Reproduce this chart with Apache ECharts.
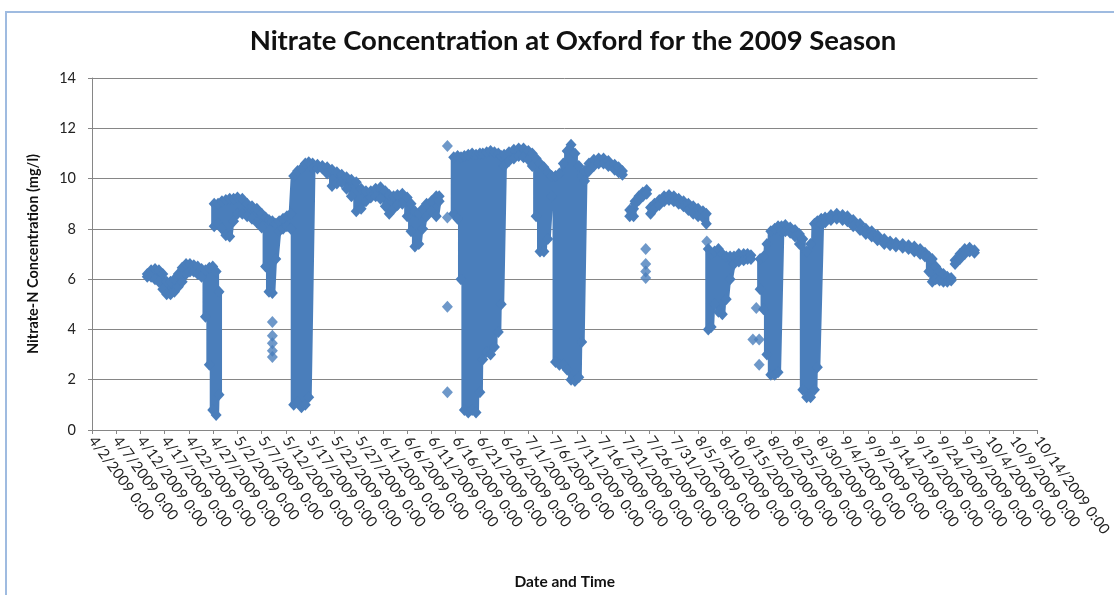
<!DOCTYPE html>
<html>
<head>
<meta charset="utf-8">
<script src="https://cdn.jsdelivr.net/npm/echarts@6/dist/echarts.min.js"></script>
<style>
  html, body { margin: 0; padding: 0; background: #fff; }
  #wrap { position: relative; width: 1114px; height: 595px; overflow: hidden; }
  #frame { position: absolute; left: 5px; top: 11px; width: 1200px; height: 700px;
           border: 2px solid #9fbbe0; box-sizing: border-box; }
  #chart { position: absolute; left: 0; top: 0; width: 1114px; height: 595px; }
</style>
</head>
<body>
<div id="wrap">
  <div id="frame"></div>
  <div id="chart"></div>
</div>
<script>
// x = days after 4/2/2009 0:00, tick every 5 days
const tickLabels = [
  '4/2/2009 0:00', '4/7/2009 0:00', '4/12/2009 0:00', '4/17/2009 0:00', '4/22/2009 0:00',
  '4/27/2009 0:00', '5/2/2009 0:00', '5/7/2009 0:00', '5/12/2009 0:00', '5/17/2009 0:00',
  '5/22/2009 0:00', '5/27/2009 0:00', '6/1/2009 0:00', '6/6/2009 0:00', '6/11/2009 0:00',
  '6/16/2009 0:00', '6/21/2009 0:00', '6/26/2009 0:00', '7/1/2009 0:00', '7/6/2009 0:00',
  '7/11/2009 0:00', '7/16/2009 0:00', '7/21/2009 0:00', '7/26/2009 0:00', '7/31/2009 0:00',
  '8/5/2009 0:00', '8/10/2009 0:00', '8/15/2009 0:00', '8/20/2009 0:00', '8/25/2009 0:00',
  '8/30/2009 0:00', '9/4/2009 0:00', '9/9/2009 0:00', '9/14/2009 0:00', '9/19/2009 0:00',
  '9/24/2009 0:00', '9/29/2009 0:00', '10/4/2009 0:00', '10/9/2009 0:00', '10/14/2009 0:00'
];

// each run: [day, high reading, low reading] (mg/l)
const aprilRun = [
  [11.4, 6.2, 6.1], [12.2, 6.35, 6.1], [13.0, 6.4, 6.0], [13.8, 6.35, 5.9], [14.6, 6.2, 5.6],
  [15.4, 5.9, 5.4], [16.2, 5.9, 5.4], [17.0, 6.0, 5.5], [17.8, 6.2, 5.7], [18.6, 6.45, 5.9],
  [19.4, 6.6, 6.2], [20.2, 6.6, 6.3], [21.0, 6.55, 6.3], [21.8, 6.5, 6.2], [22.6, 6.4, 6.1],
  [23.4, 6.35, 4.5], [24.2, 6.45, 2.6], [24.9, 6.5, 0.8], [25.6, 6.3, 0.6], [26.2, 5.5, 1.4]
];

const mayRun = [
  [25.2, 9.0, 8.1], [26.0, 9.0, 8.2], [26.8, 9.1, 8.0], [27.6, 9.15, 7.75], [28.4, 9.2, 7.7],
  [29.2, 9.2, 8.3], [30.0, 9.25, 8.6], [31.0, 9.2, 8.6], [32.0, 9.0, 8.5], [33.0, 8.9, 8.4],
  [34.0, 8.8, 8.25], [35.0, 8.6, 8.05], [35.8, 8.45, 6.5], [36.5, 8.35, 5.5], [37.2, 8.3, 5.45],
  [37.9, 8.2, 6.8], [38.6, 8.3, 7.9], [39.4, 8.4, 8.0], [40.2, 8.5, 8.1], [41.0, 8.6, 8.0],
  [41.6, 10.1, 1.0], [42.4, 10.3, 1.1], [43.2, 10.4, 0.9], [44.0, 10.6, 1.0], [44.7, 10.65, 1.3],
  [45.5, 10.6, 10.4], [46.5, 10.55, 10.4], [47.5, 10.5, 10.4], [48.5, 10.45, 10.2], [49.5, 10.35, 9.7],
  [50.5, 10.25, 9.8], [51.5, 10.15, 9.85], [52.5, 10.05, 9.6], [53.5, 9.95, 9.3], [54.5, 9.85, 8.7],
  [55.5, 9.6, 8.8], [56.5, 9.5, 9.1], [57.5, 9.5, 9.25], [58.5, 9.6, 9.3], [59.5, 9.65, 9.2],
  [60.5, 9.5, 8.9], [61.3, 9.35, 8.6], [62.2, 9.3, 8.8], [63.0, 9.35, 8.95], [64.0, 9.4, 9.0],
  [65.0, 9.25, 8.5], [65.8, 9.0, 7.9], [66.6, 8.7, 7.3], [67.4, 8.6, 7.4], [68.2, 8.8, 8.0],
  [69.0, 9.0, 8.5], [70.0, 9.1, 8.7], [71.0, 9.3, 8.5], [71.6, 9.3, 9.1]
];

const juneRun = [
  [74.6, 10.85, 8.6], [75.4, 10.9, 8.4], [76.1, 10.85, 6.0], [76.8, 10.9, 0.8], [77.6, 10.95, 0.7],
  [78.4, 11.0, 0.8], [79.2, 10.95, 0.7], [80.0, 11.0, 1.5], [80.6, 11.0, 2.8], [81.4, 11.05, 3.1],
  [82.2, 11.1, 3.0], [83.0, 11.05, 3.3], [83.8, 11.0, 3.9], [84.4, 10.9, 5.0], [85.0, 10.95, 10.5],
  [86.0, 11.05, 10.7], [87.0, 11.15, 10.8], [88.0, 11.2, 10.9], [89.0, 11.2, 10.85], [90.0, 11.1, 10.75],
  [90.8, 11.0, 10.5], [91.6, 10.8, 8.5], [92.4, 10.6, 7.1], [93.2, 10.45, 7.1], [94.0, 10.25, 7.6],
  [94.8, 10.1, 9.3], [95.6, 10.1, 2.7], [96.4, 10.2, 2.6], [97.2, 10.6, 2.6], [98.0, 11.1, 2.4],
  [98.8, 11.35, 2.0], [99.6, 11.0, 1.95], [100.4, 10.5, 2.1], [101.0, 10.1, 3.5], [101.6, 10.3, 9.9],
  [102.5, 10.6, 10.3], [103.5, 10.75, 10.5], [104.5, 10.8, 10.6], [105.5, 10.8, 10.6], [106.5, 10.7, 10.5]
];

const midJulyRun = [[107.8, 10.55, 10.35], [108.6, 10.45, 10.25], [109.4, 10.3, 10.15]];
const lateJulyLow = [[110.9, 8.75, 8.5], [111.7, 8.8, 8.5]];
const lateJulyRise = [[112.0, 9.1, 9.0], [112.8, 9.3, 9.15], [113.6, 9.45, 9.3], [114.4, 9.55, 9.4]];

const augustRun = [
  [115.2, 8.85, 8.6], [116.0, 9.0, 8.8], [117.0, 9.15, 8.95], [118.0, 9.3, 9.1], [119.0, 9.35, 9.15],
  [120.0, 9.3, 9.1], [121.0, 9.2, 9.0], [122.0, 9.1, 8.9], [123.0, 9.0, 8.75], [124.0, 8.9, 8.6],
  [125.0, 8.8, 8.5], [126.0, 8.7, 8.45], [126.7, 8.6, 8.2]
];

const midAugustRun = [
  [127.1, 7.2, 4.0], [127.7, 7.0, 4.1], [128.4, 7.1, 5.0], [129.2, 7.2, 4.7], [130.0, 7.0, 4.6],
  [130.8, 6.9, 5.2], [131.6, 6.9, 6.0], [132.4, 6.9, 6.6], [133.4, 7.0, 6.7], [134.4, 7.0, 6.75],
  [135.2, 7.0, 6.8], [135.9, 6.95, 6.8]
];

const lateAugustRun = [
  [137.8, 6.8, 5.6], [138.5, 6.9, 4.8], [139.2, 7.4, 3.0], [140.0, 7.9, 2.2], [140.8, 8.0, 2.2],
  [141.5, 8.1, 2.3], [142.2, 8.1, 7.9], [143.0, 8.15, 7.9], [144.0, 8.05, 7.85], [145.0, 7.95, 7.7],
  [145.9, 7.8, 7.4], [146.6, 7.6, 1.6], [147.4, 7.1, 1.3], [148.2, 7.4, 1.3], [149.0, 8.2, 1.6],
  [149.6, 8.3, 2.5], [150.4, 8.4, 8.2], [151.2, 8.45, 8.25], [152.4, 8.55, 8.35], [153.6, 8.6, 8.4],
  [154.8, 8.55, 8.35], [155.8, 8.5, 8.3], [157.0, 8.35, 8.1], [158.4, 8.2, 7.95], [159.6, 8.0, 7.8],
  [160.8, 7.9, 7.7], [162.0, 7.75, 7.55], [163.4, 7.6, 7.4], [164.6, 7.5, 7.35], [165.8, 7.45, 7.3],
  [167.2, 7.4, 7.25], [168.4, 7.35, 7.2], [169.6, 7.3, 7.1], [170.8, 7.2, 7.0], [171.8, 7.05, 6.9],
  [172.6, 6.9, 6.3], [173.3, 6.8, 5.9], [174.0, 6.5, 6.0], [174.8, 6.3, 5.95], [175.6, 6.2, 5.9],
  [176.4, 6.1, 5.9], [177.2, 6.05, 5.95]
];

const septemberRun = [[178.0, 6.75, 6.6], [179.0, 7.0, 6.8], [180.0, 7.2, 7.0], [181.0, 7.25, 7.1], [182.0, 7.15, 7.05]];

// lone readings [day, mg/l]
const strayPoints = [
  [37.2, 4.3], [37.2, 3.75], [37.2, 3.45], [37.2, 3.15], [37.2, 2.9],
  [73.3, 11.3], [73.3, 8.45], [73.3, 4.9], [73.3, 1.5],
  [114.2, 7.2], [114.2, 6.6], [114.2, 6.3], [114.2, 6.05],
  [126.8, 7.5],
  [136.3, 3.6], [137.0, 4.85], [137.6, 3.6], [137.6, 2.6]
];

const runs = [aprilRun, mayRun, juneRun, midJulyRun, lateJulyLow, lateJulyRise,
              augustRun, midAugustRun, lateAugustRun, septemberRun];

const BLUE = '#4a7ebb';
const FONT = 'Lato';
const GRAY = '#868686';

const series = runs.map(run => ({
  type: 'line',
  data: run.flatMap(([d, hi, lo]) => [[d, hi], [d, lo]]),
  symbol: 'diamond', symbolSize: [11, 12], showSymbol: true, showAllSymbol: true,
  itemStyle: { color: BLUE },
  lineStyle: { color: BLUE, width: 6, join: 'round' },
  silent: true
}));
series.push({
  type: 'scatter', data: strayPoints,
  symbol: 'diamond', symbolSize: [11, 12],
  itemStyle: { color: BLUE }, silent: true
});

const chart = echarts.init(document.getElementById('chart'));
chart.setOption({
  animation: false,
  title: {
    text: 'Nitrate Concentration at Oxford for the 2009 Season',
    left: 568, top: 22, textAlign: 'center',
    textStyle: { fontFamily: FONT, fontWeight: 'bold', fontSize: 27.5, color: '#111' }
  },
  grid: { left: 92, right: 64, top: 78, bottom: 160 },
  xAxis: {
    type: 'value', min: 0, max: 195, interval: 5,
    name: 'Date and Time', nameLocation: 'middle', nameGap: 144,
    nameTextStyle: { fontFamily: FONT, fontWeight: 'bold', fontSize: 15.5, color: '#111' },
    axisLine: { lineStyle: { color: GRAY } },
    axisTick: { length: 4, lineStyle: { color: GRAY } },
    splitLine: { show: false },
    axisLabel: {
      rotate: -54, margin: 8, fontFamily: FONT, fontSize: 15, color: '#222',
      showMinLabel: true, showMaxLabel: true,
      formatter: v => tickLabels[Math.round(v / 5)]
    }
  },
  yAxis: {
    type: 'value', min: 0, max: 14, interval: 2,
    name: 'Nitrate-N Concentration (mg/l)', nameLocation: 'middle', nameGap: 51,
    nameTextStyle: { fontFamily: FONT, fontWeight: 'bold', fontSize: 14.5, color: '#111' },
    axisLine: { show: true, lineStyle: { color: GRAY } },
    axisTick: { show: true, length: 4, lineStyle: { color: GRAY } },
    splitLine: { lineStyle: { color: GRAY } },
    axisLabel: { fontFamily: FONT, fontSize: 14.5, color: '#222', margin: 16 }
  },
  series
});
</script>
</body>
</html>
